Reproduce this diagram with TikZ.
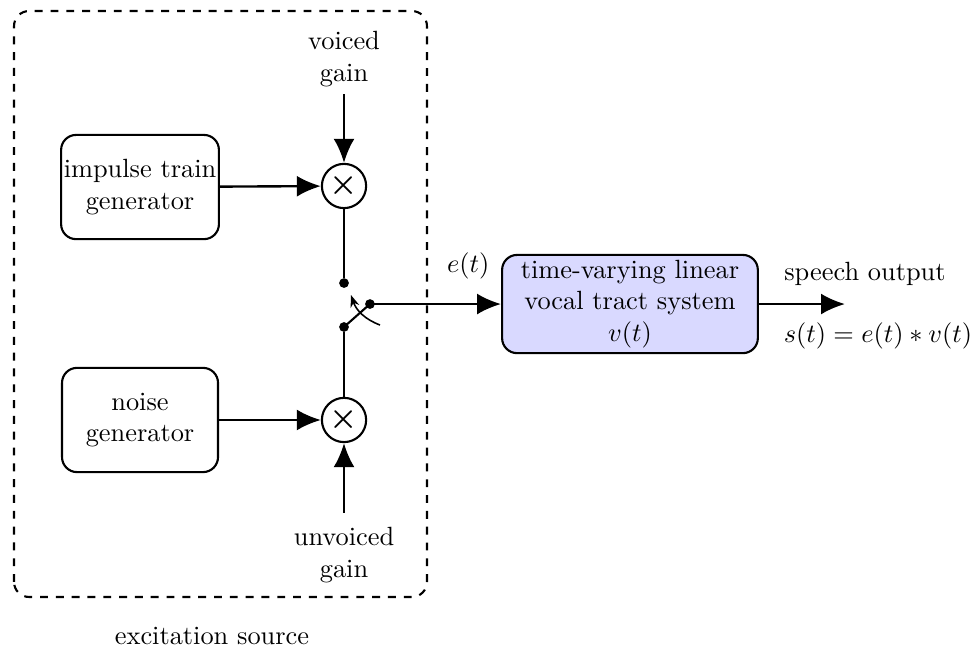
\documentclass[tikz,border=0pt]{standalone}
\usepackage{amsmath}
\usepackage{amssymb}
\usetikzlibrary{
  calc,
  positioning,
  arrows.meta}

\tikzset{
  block/.style={
    draw,
    thick,
    rounded corners=2mm,
    align=center,
    minimum width=2.08cm,
    minimum height=1.39cm,
    inner sep=1pt
  },
  mult/.style={
    draw,
    thick,
    circle,
    minimum size=5.9mm,
    inner sep=0pt
  },
  contact/.style={
    circle,
    fill=black,
    inner sep=0pt,
    minimum size=1.3mm
  },
  sig/.style={
    line width=0.9pt,
    -{Latex[length=3.2mm,width=2.8mm]}
  }
}

\begin{document}
\begin{tikzpicture}
  \useasboundingbox (0,0) rectangle (12.987,8.667);

  % Excitation source
  \draw[
    thick,
    dashed,
    rounded corners=2mm
  ] (0.187,0.707) rectangle (5.693,8.52);

  \node (exc) at (2.827,0.187) {excitation source};

  \node[block] (imp) at (1.867,6.173) {impulse train\\generator};
  \node[block] (noise) at (1.867,3.067) {noise\\generator};

  \node[mult] (m1) at (4.587,6.187) {\large$\boldsymbol{\times}$};
  \node[mult] (m2) at (4.587,3.067) {\large$\boldsymbol{\times}$};

  \node[align=center] (vg) at (4.587,7.88) {voiced\\gain};
  \node[align=center] (ug) at (4.587,1.27) {unvoiced\\gain};

  \coordinate (vgin) at (4.587,7.41);
  \coordinate (ugin) at (4.587,1.83);

  \draw[sig] (imp) -- (m1);
  \draw[sig] (noise) -- (m2);
  \draw[sig] (vgin) -- (m1);
  \draw[sig] (ugin) -- (m2);

  % Switch
  \node[contact] (up) at (4.587,4.893) {};
  \node[contact] (low) at (4.587,4.307) {};
  \node[contact] (com) at (4.933,4.613) {};
  \coordinate (turnA) at (5.067,4.333);
  \coordinate (turnB) at (4.68,4.733);

  \draw[thick] (m1) -- (up);
  \draw[thick] (m2) -- (low);
  \draw[thick] (low.center) -- (com.center);
  \draw[
    semithick,
    -{Stealth[length=1.6mm,width=1.2mm]}
  ] (turnA) to[bend left=25] (turnB);

  % Vocal tract
  \node[
    block,
    fill=blue!15,
    minimum width=3.41cm,
    minimum height=1.31cm
  ] (vt) at (8.4,4.613) {time-varying linear\\vocal tract system\\$v(t)$};

  \draw[sig] (com.center) -- (vt) node[pos=0.75,above=2mm] (et) {$e(t)$};

  \coordinate (out) at (11.267,4.613);
  \draw[sig] (vt) -- (out);

  \node (so) at (11.533,5.013) {speech output};
  \node (st) at (11.707,4.187) {$s(t)=e(t)\ast v(t)$};
\end{tikzpicture}
\end{document}
